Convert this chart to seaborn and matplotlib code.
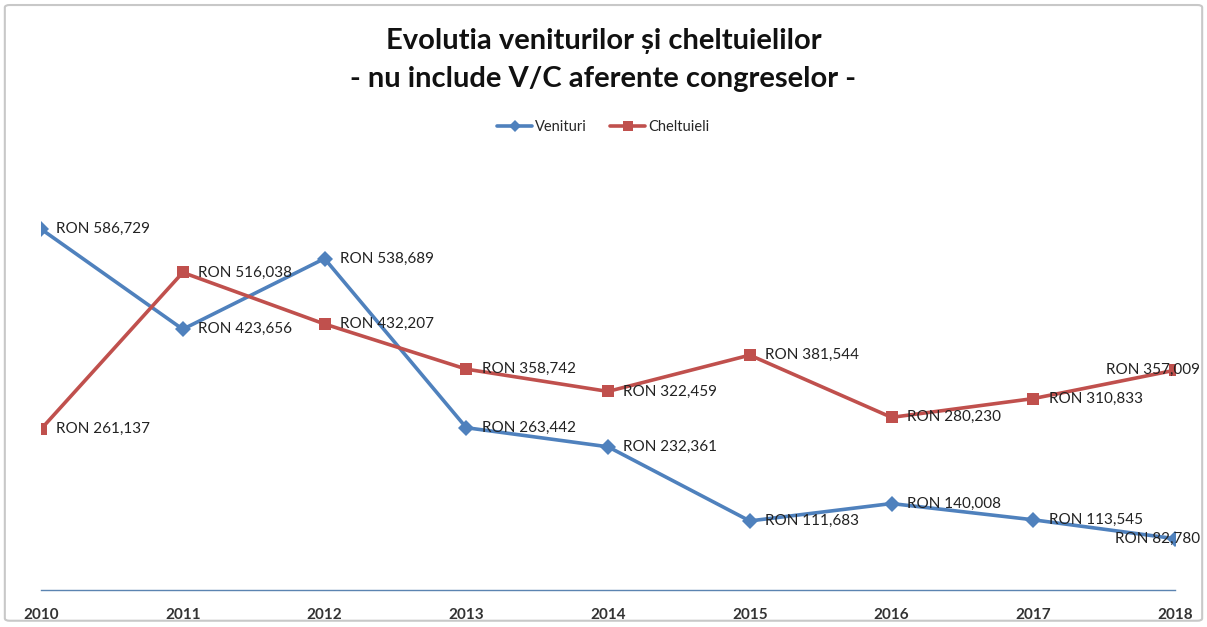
import numpy as np
import pandas as pd
import matplotlib.pyplot as plt
import seaborn as sns
from matplotlib.patches import FancyBboxPatch
from matplotlib.lines import Line2D

years = [2010, 2011, 2012, 2013, 2014, 2015, 2016, 2017, 2018]
venituri = [586729, 423656, 538689, 263442, 232361, 111683, 140008, 113545, 82780]
cheltuieli = [261137, 516038, 432207, 358742, 322459, 381544, 280230, 310833, 357009]

df = pd.DataFrame({
    'An': years * 2,
    'Valoare': venituri + cheltuieli,
    'Serie': ['Venituri'] * len(years) + ['Cheltuieli'] * len(years),
})

sns.set_style('white')
plt.rcParams['font.family'] = ['Lato', 'DejaVu Sans']

fig = plt.figure(figsize=(12.07, 6.27), dpi=100)
ax = fig.add_axes([0.034, 0.0597, 0.9395, 0.686])

colors = {'Venituri': '#4F81BD', 'Cheltuieli': '#C0504D'}
sns.lineplot(
    data=df, x='An', y='Valoare', hue='Serie', style='Serie',
    palette=colors, markers={'Venituri': 'D', 'Cheltuieli': 's'},
    dashes=False, linewidth=2.6, markersize=8.5, markeredgewidth=0,
    ax=ax, legend=False,
)

# etichete de date
def label(x, y, right=False):
    txt = f'RON {y:,}'
    if right:
        ax.annotate(txt, (x, y), xytext=(18, 0), textcoords='offset points',
                    ha='right', va='center', fontsize=11, color='#222222',
                    annotation_clip=False)
    else:
        ax.annotate(txt, (x, y), xytext=(11, 0), textcoords='offset points',
                    ha='left', va='center', fontsize=11, color='#222222')

for i, yr in enumerate(years):
    last = yr == years[-1]
    label(yr, venituri[i], right=last)
    label(yr, cheltuieli[i], right=last)

ax.set_xlim(2010, 2018)
ax.set_ylim(0, 700000)
ax.set_xticks(years)
ax.set_xticklabels([str(y) for y in years], fontweight='bold', fontsize=11, color='#333333')
ax.tick_params(axis='x', length=0, pad=13)
ax.set_yticks([])
ax.set_xlabel('')
ax.set_ylabel('')
for s in ['top', 'right', 'left']:
    ax.spines[s].set_visible(False)
ax.spines['bottom'].set_color('#5b84b1')
ax.spines['bottom'].set_linewidth(1.0)

# legenda
handles = [
    Line2D([], [], color=colors['Venituri'], marker='D', lw=2.6, ms=6, mew=0),
    Line2D([], [], color=colors['Cheltuieli'], marker='s', lw=2.6, ms=7, mew=0),
]
fig.legend(handles, ['Venituri', 'Cheltuieli'], loc='center', bbox_to_anchor=(0.5, 0.797),
           ncol=2, frameon=False, fontsize=10.5, handlelength=2.4, handletextpad=0.2,
           columnspacing=1.6)

fig.text(0.5, 0.934, 'Evolutia veniturilor și cheltuielilor', ha='center', va='center',
         fontsize=21, fontweight='bold', color='#111111')
fig.text(0.5, 0.874, '- nu include V/C aferente congreselor -', ha='center', va='center',
         fontsize=21, fontweight='bold', color='#111111')

# chenar
fig.patches.append(FancyBboxPatch((0.004, 0.01), 0.992, 0.982, boxstyle='round,pad=0,rounding_size=0.004',
                                  transform=fig.transFigure, fill=False, edgecolor='#c8c8c8', lw=1.5))

fig.savefig('out.png', dpi=100, facecolor='white')
